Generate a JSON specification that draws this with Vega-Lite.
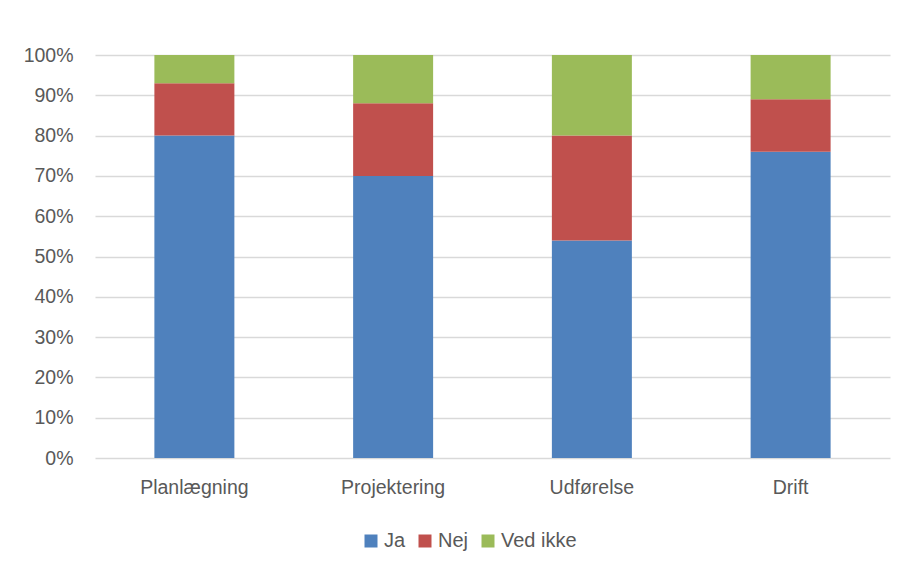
{
  "$schema": "https://vega.github.io/schema/vega-lite/v6.json",
  "width": 795,
  "height": 403,
  "autosize": {"type": "none"},
  "padding": {"left": 95, "top": 55, "right": 17, "bottom": 112},
  "background": "white",
  "config": {
    "view": {"stroke": null},
    "font": "Liberation Sans",
    "axis": {"labelFont": "Liberation Sans", "labelColor": "#595959"},
    "legend": {"labelFont": "Liberation Sans", "labelColor": "#595959"}
  },
  "data": {
    "values": [
      {"fase": "Planlægning", "svar": "Ja", "ord": 1, "andel": 0.80},
      {"fase": "Planlægning", "svar": "Nej", "ord": 2, "andel": 0.13},
      {"fase": "Planlægning", "svar": "Ved ikke", "ord": 3, "andel": 0.07},
      {"fase": "Projektering", "svar": "Ja", "ord": 1, "andel": 0.70},
      {"fase": "Projektering", "svar": "Nej", "ord": 2, "andel": 0.18},
      {"fase": "Projektering", "svar": "Ved ikke", "ord": 3, "andel": 0.12},
      {"fase": "Udførelse", "svar": "Ja", "ord": 1, "andel": 0.54},
      {"fase": "Udførelse", "svar": "Nej", "ord": 2, "andel": 0.26},
      {"fase": "Udførelse", "svar": "Ved ikke", "ord": 3, "andel": 0.20},
      {"fase": "Drift", "svar": "Ja", "ord": 1, "andel": 0.76},
      {"fase": "Drift", "svar": "Nej", "ord": 2, "andel": 0.13},
      {"fase": "Drift", "svar": "Ved ikke", "ord": 3, "andel": 0.11}
    ]
  },
  "mark": {"type": "bar"},
  "encoding": {
    "x": {
      "field": "fase",
      "type": "nominal",
      "sort": ["Planlægning", "Projektering", "Udførelse", "Drift"],
      "scale": {"paddingInner": 0.5975, "paddingOuter": 0.2988},
      "axis": {
        "title": null,
        "labelAngle": 0,
        "labelFontSize": 19.5,
        "labelPadding": 20,
        "ticks": false,
        "domain": false
      }
    },
    "y": {
      "field": "andel",
      "type": "quantitative",
      "stack": "zero",
      "scale": {"domain": [0, 1], "nice": false},
      "axis": {
        "title": null,
        "values": [0, 0.1, 0.2, 0.3, 0.4, 0.5, 0.6, 0.7, 0.8, 0.9, 1],
        "format": ".0%",
        "labelFontSize": 19.5,
        "labelPadding": 22,
        "ticks": false,
        "domain": false,
        "grid": true,
        "gridColor": "#d9d9d9",
        "gridWidth": 1.5
      }
    },
    "order": {"field": "ord", "type": "quantitative"},
    "color": {
      "field": "svar",
      "type": "nominal",
      "scale": {"domain": ["Ja", "Nej", "Ved ikke"], "range": ["#4f81bd", "#c0504d", "#9bbb59"]},
      "legend": {
        "title": null,
        "orient": "none",
        "direction": "horizontal",
        "legendX": 266,
        "legendY": 476,
        "symbolType": "square",
        "symbolSize": 169,
        "symbolStrokeWidth": 0,
        "symbolOpacity": 1,
        "labelFontSize": 20,
        "labelOffset": 3,
        "columnPadding": 9
      }
    }
  }
}
